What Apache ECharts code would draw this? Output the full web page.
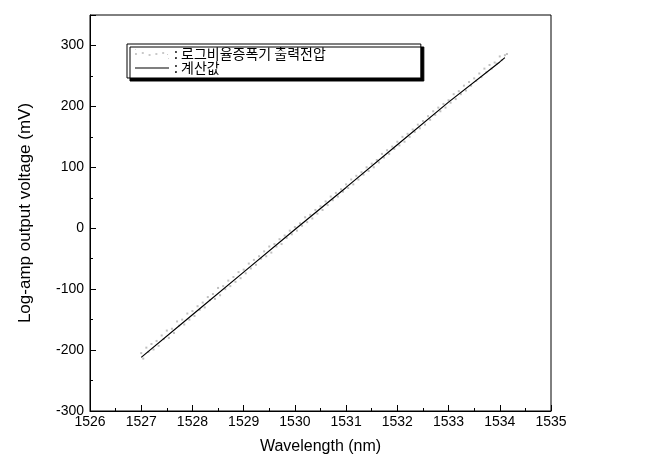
<!DOCTYPE html>
<html><head><meta charset="utf-8">
<script src="https://cdn.jsdelivr.net/npm/echarts@6/dist/echarts.min.js"></script>
<style>html,body{margin:0;padding:0;background:#fff}#c{width:672px;height:470px}</style>
</head><body><div id="c"></div>
<script>
var measName = '로그비율증폭기 출력전압';
var calcName = '계산값';
var xTicks = [1526, 1535];
var yTicks = [-300, 300];
var measX = [1527.0,1527.1,1527.2,1527.3,1527.4,1527.5,1527.6,1527.7,1527.8,1527.9,
 1528.0,1528.1,1528.2,1528.3,1528.4,1528.5,1528.6,1528.7,1528.8,1528.9,
 1529.0,1529.1,1529.2,1529.3,1529.4,1529.5,1529.6,1529.7,1529.8,1529.9,
 1530.0,1530.1,1530.2,1530.3,1530.4,1530.5,1530.6,1530.7,1530.8,1530.9,
 1531.0,1531.1,1531.2,1531.3,1531.4,1531.5,1531.6,1531.7,1531.8,1531.9,
 1532.0,1532.1,1532.2,1532.3,1532.4,1532.5,1532.6,1532.7,1532.8,1532.9,
 1533.0,1533.1,1533.2,1533.3,1533.4,1533.5,1533.6,1533.7,1533.8,1533.9,
 1534.0,1534.1];
var measY = [-205,-196,-190,-185,-176,-168,-165,-153,-150,-140,
 -136,-128,-122,-113,-108,-98,-95,-86,-80,-72,
 -68,-58,-52,-46,-38,-30,-26,-18,-12,-4,
 2,8,18,22,30,36,44,52,58,64,
 72,80,86,92,100,106,112,122,128,134,
 142,150,155,162,170,176,184,192,198,204,
 210,220,225,234,240,246,254,262,268,272,
 282,284];
var measY2 = [-214,-203,-199,-193,-182,-180,-172,-160,-158,-150,
 -144,-134,-130,-118,-116,-110,-100,-95,-88,-82,
 -74,-66,-60,-50,-46,-40,-30,-26,-16,-10,
 -4,4,10,16,24,30,38,46,52,60,
 66,72,80,88,94,100,108,116,122,130,
 136,142,150,158,164,170,178,186,192,198,
 206,212,220,226,234,242,248,256,262,270,
 276,286];
var calcX = [1527, 1528, 1529, 1530, 1531, 1532, 1533, 1534, 1534.1];
var calcY = [-212, -142, -72, -2, 67, 137, 207, 273, 280];

var measData = [];
for (var i = 0; i < measX.length; i++) { measData.push([measX[i], measY[i]]); measData.push([measX[i] + 0.04, measY2[i]]); }
var calcData = calcX.map(function (x, i) { return [x, calcY[i]]; });

var font = 'Liberation Sans, Arial, sans-serif';
var chart = echarts.init(document.getElementById('c'));
chart.setOption({
  animation: false,
  backgroundColor: '#fff',
  grid: { left: 90, right: 121, top: 15, bottom: 59, show: true, borderColor: '#000', borderWidth: 1, backgroundColor: 'transparent' },
  legend: {
    orient: 'vertical', left: 127, top: 44,
    padding: [3, 95, 3, 8], itemGap: 0, itemWidth: 34, itemHeight: 10,
    backgroundColor: '#fff', borderColor: '#000', borderWidth: 1,
    shadowColor: '#000', shadowBlur: 0, shadowOffsetX: 3, shadowOffsetY: 3,
    textStyle: { fontFamily: 'Noto Sans CJK KR', fontSize: 14, color: '#000' },
    formatter: function (n) { return ': ' + n; },
    data: [
      { name: measName, icon: 'path://M0,4h2v2h-2z M7,3h2v2h-2z M14,5h2v2h-2z M21,4h2v2h-2z M28,3h2v2h-2z M33,5h1v1h-1z M0,0h1v1h-1z M34,9h1v1h-1z', itemStyle: { color: '#bbb' } },
      { name: calcName, icon: 'path://M0,4.5h34v1h-34z', itemStyle: { color: '#000' } }
    ]
  },
  xAxis: {
    type: 'value', min: xTicks[0], max: xTicks[1], interval: 1,
    name: 'Wavelength (nm)', nameLocation: 'middle', nameGap: 28,
    nameTextStyle: { fontFamily: font, fontSize: 16, color: '#000' },
    axisLine: { show: true, onZero: false, lineStyle: { color: '#000', width: 1 } },
    axisTick: { show: true, inside: true, length: 6, lineStyle: { color: '#000' } },
    minorTick: { show: true, splitNumber: 2, length: 3, lineStyle: { color: '#000' } },
    axisLabel: { fontFamily: font, fontSize: 14, color: '#000', margin: 4,
      formatter: function (v) { return String(v); } },
    splitLine: { show: false }
  },
  yAxis: {
    type: 'value', min: yTicks[0], max: 350, interval: 100,
    name: 'Log-amp output voltage (mV)', nameLocation: 'middle', nameGap: 56,
    nameTextStyle: { fontFamily: font, fontSize: 17, color: '#000' },
    axisLine: { show: true, onZero: false, lineStyle: { color: '#000', width: 1 } },
    axisTick: { show: true, inside: true, length: 6, lineStyle: { color: '#000' } },
    minorTick: { show: true, splitNumber: 2, length: 3, lineStyle: { color: '#000' } },
    axisLabel: { fontFamily: font, fontSize: 14, color: '#000', margin: 6,
      formatter: function (v) { return v > yTicks[1] ? '' : String(v); } },
    splitLine: { show: false }
  },
  series: [
    { name: measName, type: 'scatter', data: measData, symbol: 'rect', symbolSize: 2,
      itemStyle: { color: '#b0b0b0' }, z: 2 },
    { name: calcName, type: 'line', data: calcData, showSymbol: false, symbol: 'none',
      lineStyle: { color: '#000', width: 1.2 }, z: 3 }
  ]
});
</script></body></html>
